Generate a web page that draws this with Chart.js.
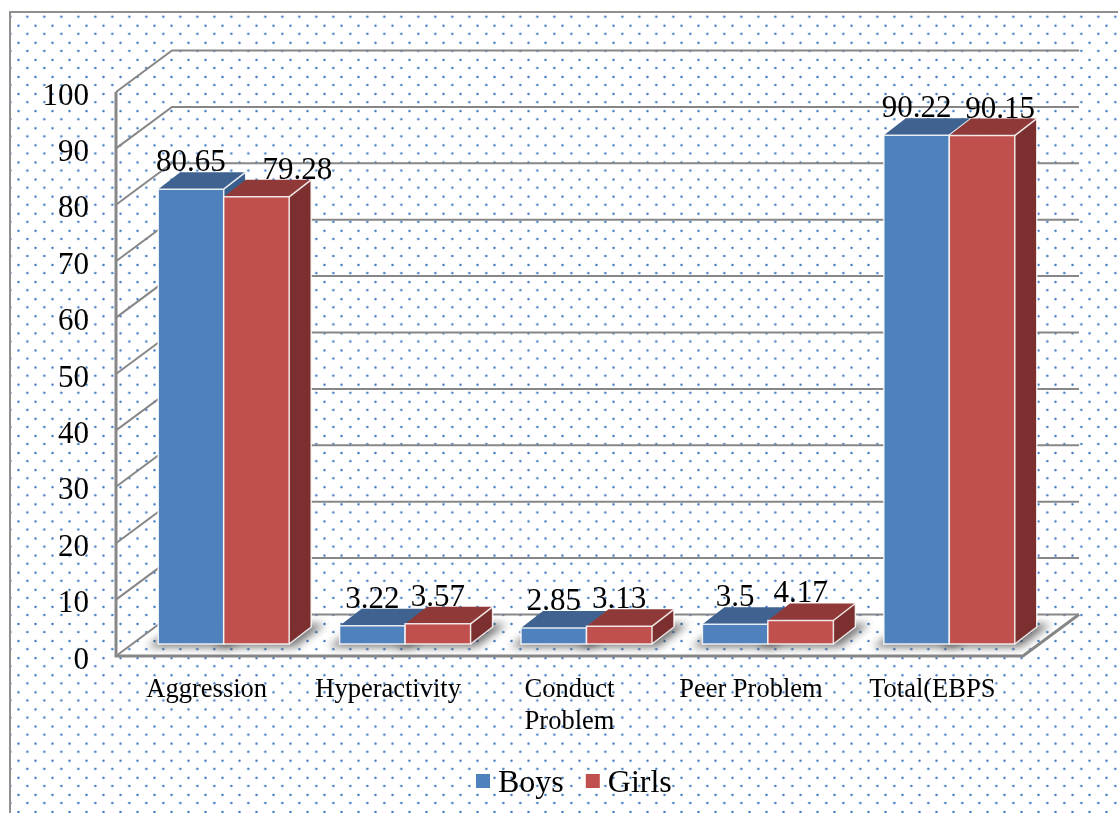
<!DOCTYPE html>
<html>
<head>
<meta charset="utf-8">
<title>EBPS scores</title>
<script src="https://cdn.jsdelivr.net/npm/chart.js@4/dist/chart.umd.js"></script>
<style>
  html, body { margin: 0; height: 100%; background: #fff; overflow: hidden; }
  /* dotted panel, open on the right and bottom */
  #panel {
    position: absolute; left: 9px; top: 11px; width: 1140px; height: 840px;
    border: 2px solid #8f8f8f;
    background-image:
      radial-gradient(circle, #3f78c2 0, #3f78c2 .8px, rgba(63,120,194,.2) 1.4px, transparent 1.8px),
      radial-gradient(circle, #3f78c2 0, #3f78c2 .8px, rgba(63,120,194,.2) 1.4px, transparent 1.8px);
    background-size: 17px 17.1px;
    background-position: -9.2px -4.85px, -18px 4.15px;
  }
  #chart { position: absolute; left: 0; top: 0; }
</style>
</head>
<body>
<div id="panel"></div>
<canvas id="chart" width="1118" height="813"></canvas>
<script>
const categories = ['Aggression', 'Hyperactivity', ['Conduct', 'Problem'], 'Peer Problem', 'Total(EBPS'];
const boys = [80.65, 3.22, 2.85, 3.5, 90.22];
const girls = [79.28, 3.57, 3.13, 4.17, 90.15];
const yTicks = [0, 10, 20, 30, 40, 50, 60, 70, 80, 90, 100];

const SERIF = '"Liberation Serif", "Times New Roman", serif';
const GRID = '#878787';

// tick text sits a little under the gridline it names, so the plot is
// lifted by this much against the scale
const LIFT = -4.5;
// depth of the walls, where the bars stand on the floor, and depth of a bar
const WALL = { dx: 56, dy: -41.5 };
const SEAT = { dx: 17, dy: -12 + LIFT };
const BOX = { dx: 22, dy: -17 };

const faces = [
  { front: '#4f81bd', top: '#3f6290', side: '#3b5f8c' },
  { front: '#c0504d', top: '#8f3a38', side: '#7b2f2e' },
];

// two value labels sit off their bars: "dataset:index" -> x shift
const labelShift = { '1:0': 41, '1:4': 18 };

function poly(ctx, pts) {
  ctx.beginPath();
  pts.forEach((p, i) => (i ? ctx.lineTo(p[0], p[1]) : ctx.moveTo(p[0], p[1])));
  ctx.closePath();
}

/* 뒷벽 눈금선 + 바닥 */
function drawWalls(chart) {
  const { ctx, chartArea: a, scales: { y } } = chart;
  ctx.save();
  ctx.strokeStyle = GRID;
  ctx.lineWidth = 2;
  yTicks.forEach(v => {
    const py = y.getPixelForValue(v) + LIFT;
    ctx.beginPath();
    ctx.moveTo(a.left, py);
    ctx.lineTo(a.left + WALL.dx, py + WALL.dy);
    ctx.lineTo(a.right + WALL.dx, py + WALL.dy);
    ctx.stroke();
  });
  const y0 = y.getPixelForValue(0) + LIFT;
  ctx.lineWidth = 3;
  ctx.beginPath();
  ctx.moveTo(a.left, y.getPixelForValue(100) + LIFT);
  ctx.lineTo(a.left, y0);
  ctx.lineTo(a.right, y0);
  ctx.lineTo(a.right + WALL.dx, y0 + WALL.dy);
  ctx.stroke();
  ctx.restore();
}

function drawShadow(ctx, el) {
  const x0 = el.x - el.width / 2 + SEAT.dx;
  const x1 = el.x + el.width / 2 + SEAT.dx;
  const b = el.base + SEAT.dy;
  ctx.save();
  ctx.filter = 'blur(4px)';
  ctx.fillStyle = 'rgba(60,60,60,.7)';
  poly(ctx, [[x0 - 11, b + 3], [x1 + 6, b + 3], [x1 + BOX.dx + 14, b + BOX.dy - 3], [x0 + BOX.dx, b + BOX.dy - 3]]);
  ctx.fill();
  ctx.restore();
}

function drawBox(ctx, el, face) {
  const x0 = el.x - el.width / 2 + SEAT.dx;
  const x1 = el.x + el.width / 2 + SEAT.dx;
  const t = el.y + SEAT.dy;
  const b = el.base + SEAT.dy;
  ctx.save();
  ctx.fillStyle = face.side;
  poly(ctx, [[x1, t], [x1 + BOX.dx, t + BOX.dy], [x1 + BOX.dx, b + BOX.dy], [x1, b]]);
  ctx.fill();
  ctx.fillStyle = face.top;
  poly(ctx, [[x0, t], [x0 + BOX.dx, t + BOX.dy], [x1 + BOX.dx, t + BOX.dy], [x1, t]]);
  ctx.fill();
  ctx.fillStyle = face.front;
  ctx.strokeStyle = 'rgba(255,255,255,.85)';
  ctx.lineWidth = 1.5;
  poly(ctx, [[x0, t], [x1, t], [x1, b], [x0, b]]);
  ctx.fill();
  ctx.stroke();
  ctx.beginPath();
  ctx.moveTo(x1, t);
  ctx.lineTo(x1 + BOX.dx, t + BOX.dy);
  ctx.lineTo(x1 + BOX.dx, b + BOX.dy);
  ctx.lineTo(x1, b);
  ctx.stroke();
  ctx.restore();
}

function drawValues(chart) {
  const { ctx } = chart;
  ctx.save();
  ctx.font = '31px ' + SERIF;
  ctx.fillStyle = '#000';
  ctx.textAlign = 'center';
  chart.data.datasets.forEach((ds, i) => {
    chart.getDatasetMeta(i).data.forEach((el, j) => {
      const nudge = labelShift[i + ':' + j] || 0;
      ctx.fillText(String(ds.data[j]), el.x + SEAT.dx + nudge, el.y + SEAT.dy - 18);
    });
  });
  ctx.restore();
}

function drawLegend(chart) {
  const { ctx } = chart;
  let x = 476;
  ctx.save();
  ctx.font = '32px ' + SERIF;
  chart.data.datasets.forEach((ds, i) => {
    ctx.fillStyle = faces[i].front;
    ctx.fillRect(x, 774, 14, 14);
    ctx.fillStyle = '#000';
    ctx.fillText(ds.label, x + 22, 792);
    x += 22 + ctx.measureText(ds.label).width + 22;
  });
  ctx.restore();
}

/* 3D 막대: 남자 -> 여자 순으로 그려야 옆면이 가려진다 */
const boxes3d = {
  id: 'boxes3d',
  beforeDatasetsDraw(chart) {
    const { ctx } = chart;
    const metas = chart.data.datasets.map((ds, i) => chart.getDatasetMeta(i));
    drawWalls(chart);
    metas.forEach(m => m.data.forEach(el => drawShadow(ctx, el)));
    categories.forEach((c, j) => {
      metas.forEach((m, i) => drawBox(ctx, m.data[j], faces[i]));
    });
    return false;
  },
  afterDraw(chart) {
    drawValues(chart);
    drawLegend(chart);
  },
};

new Chart(document.getElementById('chart'), {
  type: 'bar',
  data: {
    labels: categories,
    datasets: [
      { label: 'Boys', data: boys, backgroundColor: faces[0].front },
      { label: 'Girls', data: girls, backgroundColor: faces[1].front },
    ],
  },
  plugins: [boxes3d],
  options: {
    responsive: false,
    animation: false,
    layout: { padding: { top: 96.5, right: 95, bottom: 0, left: 0 } },
    categoryPercentage: 0.722,
    barPercentage: 1,
    plugins: { legend: { display: false }, tooltip: { enabled: false } },
    scales: {
      x: {
        grid: { display: false, drawTicks: false },
        border: { display: false },
        afterFit: s => { s.height = 152.5; },
        ticks: {
          autoSkip: false, maxRotation: 0, minRotation: 0, padding: 14,
          color: '#000', font: { family: SERIF, size: 26.5 },
        },
      },
      y: {
        min: 0,
        max: 100,
        grid: { display: false, drawTicks: false },
        border: { display: false },
        afterFit: s => { s.width = 116; },
        ticks: {
          stepSize: 10, padding: 27,
          color: '#000', font: { family: SERIF, size: 31 },
        },
      },
    },
  },
});
</script>
</body>
</html>
